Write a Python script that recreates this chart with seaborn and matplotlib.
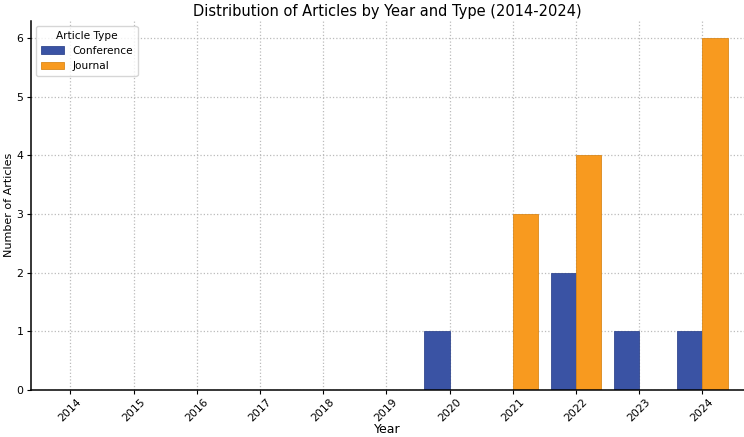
import matplotlib
matplotlib.use("Agg")
import matplotlib.pyplot as plt
import pandas as pd
import seaborn as sns

years = ["2014", "2015", "2016", "2017", "2018", "2019", "2020", "2021", "2022", "2023", "2024"]
conference = [0, 0, 0, 0, 0, 0, 1, 0, 2, 1, 1]
journal = [0, 0, 0, 0, 0, 0, 0, 3, 4, 0, 6]
types = ["Conference", "Journal"]
colors = {"Conference": "#3a53a4", "Journal": "#f89a1f"}

df = pd.DataFrame({
    "Year": years * 2,
    "Count": conference + journal,
    "Article Type": [types[0]] * len(years) + [types[1]] * len(years),
})

sns.set_style("ticks", {"text.color": "black", "axes.labelcolor": "black",
                        "xtick.color": "black", "ytick.color": "black",
                        "axes.edgecolor": "black"})
plt.rcParams["font.family"] = ["DejaVu Sans"]

fig = plt.figure(figsize=(7.44, 4.37), dpi=100)
ax = fig.add_axes([0.041, 0.108, 0.959, 0.845])

sns.barplot(data=df, x="Year", y="Count", hue="Article Type", order=years,
            hue_order=types, palette=colors, width=0.8, saturation=1, ax=ax,
            edgecolor="none", linewidth=0)
for bar in ax.patches:
    fc = bar.get_facecolor()
    bar.set_edgecolor((fc[0] * 0.88, fc[1] * 0.88, fc[2] * 0.88, 1))
    bar.set_linewidth(0.6)

ax.set_xlim(-0.63, 10.66)
ax.set_ylim(0, 6.3)
ax.grid(True, linestyle=":", color="#bbbbbb", linewidth=0.9)
ax.set_axisbelow(True)
sns.despine(ax=ax)
ax.spines["left"].set_linewidth(1.1)
ax.spines["bottom"].set_linewidth(1.1)

ax.set_title("Distribution of Articles by Year and Type (2014-2024)", fontsize=10.5, pad=3)
ax.set_xlabel("Year", fontsize=9, labelpad=0)
ax.set_ylabel("Number of Articles", fontsize=8, labelpad=2)
ax.tick_params(axis="both", labelsize=7.8, length=3, width=0.8, pad=2)
plt.setp(ax.get_xticklabels(), rotation=45)

leg = ax.legend(title="Article Type", loc="upper left", fontsize=7.6, title_fontsize=7.6,
                frameon=True, borderpad=0.45, handlelength=2.2, labelspacing=0.5)
leg.get_frame().set_edgecolor("#cccccc")

fig.savefig("out.png", dpi=100)
